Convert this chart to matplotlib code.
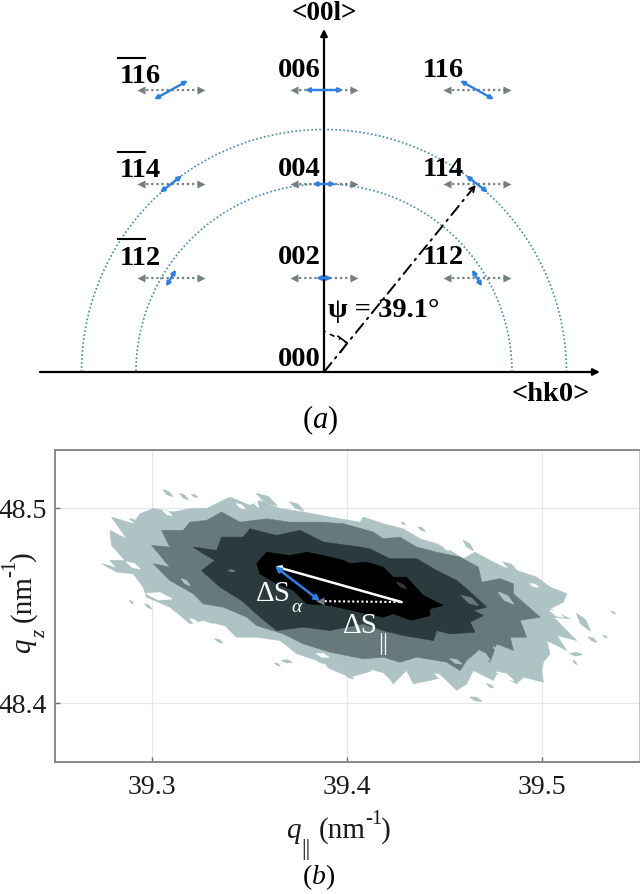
import matplotlib
matplotlib.use("Agg")
import matplotlib.pyplot as plt
from matplotlib.patches import Arc, Polygon
from matplotlib.transforms import Affine2D

plt.rcParams['font.family'] = ['Liberation Serif', 'DejaVu Serif']
plt.rcParams['mathtext.fontset'] = 'custom'
plt.rcParams['mathtext.rm'] = 'Liberation Serif'
plt.rcParams['mathtext.it'] = 'Liberation Serif:italic'
plt.rcParams['mathtext.bf'] = 'Liberation Serif:bold'
plt.rcParams['mathtext.fallback'] = 'stix'

# ---------- panel (a): reciprocal-space map ----------
H_COLUMNS = [-3.255, 0.0, 3.255]
L_ROWS = [2, 4, 6]
RING_RADII = [4.0, 5.16]
PSI_TIP = (3.23, 3.98)
GREY_HALF = 0.64
# half extents of the blue strain arrows: {(column, l): (dh, dl)}
BLUE_DH = {2: [0.106, 0.17, 0.106], 4: [0.234, 0.245, 0.234], 6: [0.36, 0.404, 0.36]}
BLUE_DL = {2: 0.18, 4: 0.18, 6: 0.20}
BLUE_SLOPE = [1, 0, -1]

# ---------- panel (b): contour regions (q_par, q_z, nm^-1) ----------
OUTER_Q = [39.2739, 39.2816, 39.2782, 39.2859, 39.2790, 39.2782, 39.2868, 39.2790, 39.2902, 39.2936,
           39.3005, 39.3107, 39.3193, 39.3279, 39.3399, 39.3502, 39.3553, 39.3656, 39.3776, 39.3913,
           39.4067, 39.4084, 39.4186, 39.4289, 39.4375, 39.4461, 39.4529, 39.4598, 39.4658, 39.4735,
           39.4803, 39.4872, 39.4975, 39.5043, 39.5129, 39.5112, 39.5043, 39.5146, 39.5061, 39.5180,
           39.5078, 39.5129, 39.5026, 39.5043, 39.5009, 39.5000, 39.5009, 39.4906, 39.4872, 39.4769,
           39.4752, 39.4649, 39.4615, 39.4564, 39.4495, 39.4426, 39.4341, 39.4306, 39.4238, 39.4135,
           39.4015, 39.3913, 39.3845, 39.3742, 39.3656, 39.3536, 39.3433, 39.3365, 39.3262, 39.3193,
           39.3133, 39.3090, 39.2970, 39.2953, 39.2902, 39.2816]
OUTER_Z = [48.4717, 48.4696, 48.4734, 48.4734, 48.4811, 48.4888, 48.4845, 48.4956, 48.4922, 48.4973,
           48.5000, 48.4982, 48.5000, 48.5000, 48.5059, 48.5016, 48.5041, 48.5000, 48.4982, 48.4956,
           48.4930, 48.4956, 48.4922, 48.4896, 48.4845, 48.4819, 48.4785, 48.4742, 48.4776, 48.4734,
           48.4700, 48.4682, 48.4648, 48.4597, 48.4563, 48.4520, 48.4486, 48.4434, 48.4443, 48.4323,
           48.4349, 48.4272, 48.4323, 48.4255, 48.4212, 48.4169, 48.4109, 48.4135, 48.4101, 48.4152,
           48.4118, 48.4169, 48.4101, 48.4067, 48.4135, 48.4118, 48.4101, 48.4169, 48.4101, 48.4169,
           48.4135, 48.4178, 48.4221, 48.4255, 48.4323, 48.4340, 48.4340, 48.4392, 48.4426, 48.4409,
           48.4460, 48.4494, 48.4545, 48.4597, 48.4665, 48.4674]

MID_Q = [39.3005, 39.3090, 39.2996, 39.3090, 39.3048, 39.3159, 39.3193, 39.3279, 39.3356, 39.3450,
         39.3587, 39.3707, 39.3862, 39.3982, 39.4135, 39.4186, 39.4272, 39.4358, 39.4461, 39.4581,
         39.4675, 39.4692, 39.4786, 39.4855, 39.4855, 39.4992, 39.4889, 39.4923, 39.4838, 39.4855,
         39.4769, 39.4735, 39.4675, 39.4615, 39.4581, 39.4512, 39.4358, 39.4272, 39.4186, 39.4084,
         39.3913, 39.3776, 39.3673, 39.3536, 39.3485, 39.3365, 39.3262, 39.3210, 39.3090]
MID_Z = [48.4717, 48.4699, 48.4811, 48.4802, 48.4888, 48.4888, 48.4930, 48.4939, 48.4982, 48.4930,
         48.4947, 48.4930, 48.4930, 48.4922, 48.4879, 48.4845, 48.4853, 48.4802, 48.4776, 48.4751,
         48.4699, 48.4622, 48.4640, 48.4614, 48.4563, 48.4443, 48.4426, 48.4340, 48.4340, 48.4272,
         48.4306, 48.4212, 48.4272, 48.4221, 48.4169, 48.4212, 48.4238, 48.4212, 48.4238, 48.4229,
         48.4263, 48.4306, 48.4357, 48.4400, 48.4443, 48.4494, 48.4511, 48.4563, 48.4631]

DARK_Q = [39.3210, 39.3330, 39.3356, 39.3467, 39.3502, 39.3639, 39.3759, 39.3879, 39.4067, 39.4118,
          39.4221, 39.4358, 39.4461, 39.4563, 39.4615, 39.4718, 39.4649, 39.4701, 39.4632, 39.4658,
          39.4529, 39.4461, 39.4444, 39.4289, 39.4186, 39.4084, 39.3913, 39.3776, 39.3639, 39.3553,
          39.3459, 39.3347, 39.3253, 39.3322, 39.3262]
DARK_Z = [48.4802, 48.4785, 48.4853, 48.4853, 48.4896, 48.4862, 48.4888, 48.4828, 48.4802, 48.4793,
          48.4742, 48.4742, 48.4682, 48.4631, 48.4588, 48.4494, 48.4477, 48.4451, 48.4417, 48.4366,
          48.4357, 48.4374, 48.4323, 48.4349, 48.4374, 48.4409, 48.4374, 48.4392, 48.4374, 48.4443,
          48.4528, 48.4597, 48.4682, 48.4734, 48.4768]

CORE_Q = [39.3536, 39.3587, 39.3707, 39.3793, 39.3879, 39.3982, 39.4015, 39.4101, 39.4186, 39.4238,
          39.4306, 39.4392, 39.4495, 39.4426, 39.4426, 39.4332, 39.4238, 39.4186, 39.4101, 39.3913,
          39.3793, 39.3725, 39.3639, 39.3553]
CORE_Z = [48.4717, 48.4776, 48.4759, 48.4776, 48.4759, 48.4734, 48.4717, 48.4725, 48.4699, 48.4648,
          48.4648, 48.4554, 48.4503, 48.4486, 48.4451, 48.4426, 48.4460, 48.4443, 48.4460, 48.4503,
          48.4511, 48.4580, 48.4614, 48.4665]

# small patches: (q_start, q_end, z_start, z_end)
LIGHT_ISLANDS = [(39.3056, 39.3104, 48.5096, 48.5062), (39.3142, 39.3185, 48.5076, 48.5045),
                 (39.3202, 39.3231, 48.5072, 48.5058), (39.2885, 39.2919, 48.4947, 48.4930),
                 (39.2885, 39.2902, 48.4528, 48.4511), (39.2962, 39.2996, 48.4511, 48.4486),
                 (39.3322, 39.3361, 48.4332, 48.4311), (39.3630, 39.3656, 48.4207, 48.4193),
                 (39.3665, 39.3716, 48.4221, 48.4212), (39.3990, 39.4033, 48.4152, 48.4127),
                 (39.4281, 39.4298, 48.4930, 48.4917), (39.4366, 39.4401, 48.4905, 48.4884),
                 (39.4632, 39.4692, 48.4033, 48.4012), (39.4718, 39.4752, 48.4101, 48.4080),
                 (39.5163, 39.5180, 48.4221, 48.4200), (39.5241, 39.5283, 48.4340, 48.4315),
                 (39.5318, 39.5335, 48.4349, 48.4337), (39.5360, 39.5378, 48.4472, 48.4460),
                 (39.5146, 39.5206, 48.4255, 48.4251), (39.3536, 39.3639, 48.5076, 48.5016),
                 (39.3707, 39.3776, 48.5033, 48.4990), (39.4598, 39.4649, 48.4836, 48.4785),
                 (39.4803, 39.4872, 48.4725, 48.4682), (39.5180, 39.5249, 48.4460, 48.4374)]
WHITE_FLECKS = [(39.3433, 39.3476, 48.5024, 48.4999), (39.3519, 39.3545, 48.5050, 48.5007),
                (39.3056, 39.3099, 48.4990, 48.4964), (39.2970, 39.3099, 48.4563, 48.4537),
                (39.2868, 39.2936, 48.4725, 48.4691), (39.3313, 39.3416, 48.4409, 48.4349),
                (39.3193, 39.3236, 48.4434, 48.4409), (39.3845, 39.3905, 48.4255, 48.4238),
                (39.3862, 39.3896, 48.4203, 48.4190), (39.4126, 39.4229, 48.4169, 48.4109),
                (39.4452, 39.4495, 48.4152, 48.4127), (39.4941, 39.4983, 48.4614, 48.4597),
                (39.4495, 39.4521, 48.4811, 48.4785), (39.5043, 39.5112, 48.4477, 48.4443),
                (39.4769, 39.4855, 48.4161, 48.4118)]
LIGHT_ON_MID = [(39.3150, 39.3193, 48.4640, 48.4605), (39.4529, 39.4589, 48.4229, 48.4203),
                (39.4752, 39.4795, 48.4289, 48.4255), (39.4675, 39.4735, 48.4272, 48.4221),
                (39.4778, 39.4855, 48.4571, 48.4511)]
MID_ON_DARK = [(39.4589, 39.4675, 48.4554, 48.4503), (39.3390, 39.3425, 48.4682, 48.4679)]
DARK_ON_CORE = [(39.4358, 39.4392, 48.4699, 48.4674), (39.4255, 39.4306, 48.4622, 48.4588)]

S_START = (39.3630, 48.4703)
S_END = (39.4281, 48.4520)
S_ALPHA_END = (39.3862, 48.4525)

X_TICKS = [39.3, 39.4, 39.5]
Y_TICKS = [48.4, 48.5]

LIGHT, MID, DARK, CORE = '#aec3c3', '#66797b', '#2b3a3c', '#000000'
BLUE, GREY, RING = '#2b7fe6', '#748080', '#3c8cb0'

W, H = 640, 894
fig = plt.figure(figsize=(W / 100, H / 100), dpi=100, facecolor='white')
PX = Affine2D().scale(1 / W, -1 / H).translate(0, 1) + fig.transFigure


def note(x, y, s, **kw):
    kw.setdefault('ha', 'left')
    kw.setdefault('va', 'baseline')
    kw.setdefault('color', 'black')
    return fig.text(x, y, s, transform=PX, **kw)


# ---------- panel (a) ----------
ax = fig.add_axes([0, 0, 1, 1])
ax.set_xlim(-324 / 47, 316 / 47)
ax.set_ylim((372 - H) / 47, 372 / 47)
ax.axis('off')

for r in RING_RADII:
    ax.add_patch(Arc((0, 0), 2 * r, 2 * r, theta1=0, theta2=180, color=RING, lw=1.2, ls=(0, (1, 1.4))))

ax.annotate('', xy=(276 / 47, 0), xytext=(-284 / 47, 0),
            arrowprops=dict(arrowstyle='-|>', color='black', lw=1.6, mutation_scale=10, shrinkA=0, shrinkB=0))
ax.annotate('', xy=(0, 343 / 47), xytext=(0, 0),
            arrowprops=dict(arrowstyle='-|>', color='black', lw=1.6, mutation_scale=10, shrinkA=0, shrinkB=0))
ax.annotate('', xy=PSI_TIP, xytext=(0, 0),
            arrowprops=dict(arrowstyle='->', color='black', lw=1.4, ls=(0, (6, 3, 1, 3)), shrinkA=0, shrinkB=0,
                            mutation_scale=9))
ax.plot([0, 0.49], [0.87, 0.62], color='black', lw=1.2, ls=(0, (1, 3, 3, 3)))
ax.plot([0.30, 0.49, 0.36], [0.76, 0.62, 0.43], color='black', lw=1.2)

for col, h in enumerate(H_COLUMNS):
    for l in L_ROWS:
        ax.plot([h - GREY_HALF, h + GREY_HALF], [l, l], color=GREY, lw=1.6, ls=(0, (1, 1.3)), zorder=3)
        ax.plot([h - GREY_HALF], [l], marker='<', color=GREY, ms=6, mec='none', zorder=3)
        ax.plot([h + GREY_HALF], [l], marker='>', color=GREY, ms=6, mec='none', zorder=3)
        dh = BLUE_DH[l][col]
        dl = BLUE_DL[l] * BLUE_SLOPE[col]
        ax.annotate('', xy=(h + dh, l + dl), xytext=(h - dh, l - dl), zorder=4,
                    arrowprops=dict(arrowstyle='<|-|>', color=BLUE, lw=1.7, mutation_scale=6,
                                    shrinkA=0, shrinkB=0))

bold = dict(fontweight='bold', fontsize=20.5)
note(324, 20, '<00l>', ha='center', fontweight='bold', fontsize=19.5)
note(551, 401, '<hk0>', ha='center', **bold)
for x, y, s in [(278, 77, '006'), (278, 176, '004'), (278, 264, '002'), (278, 366, '000'),
                (423, 77, '116'), (423, 176, '114'), (423, 264, '112'),
                (120, 83, '116'), (120, 177, '114'), (120, 265, '112')]:
    note(x, y, s, **bold)
for y in (58, 152, 239):
    for x0, x1 in ((118, 131), (133, 145)):
        fig.add_artist(plt.Line2D([x0, x1], [y, y], transform=PX, color='black', lw=1.5))
note(328, 317, 'ψ = 39.1°', **bold)
note(320, 428, r'($\mathit{a}$)', ha='center', fontsize=22)

# ---------- panel (b) ----------
axb = fig.add_axes([55 / W, 1 - 762 / H, (639 - 55) / W, (762 - 450) / H], facecolor='white')
axb.set_xlim(39.25, 39.55)
axb.set_ylim(48.37, 48.53)
axb.set_xticks(X_TICKS)
axb.set_yticks(Y_TICKS)
axb.set_xticklabels([f'{v:.1f}' for v in X_TICKS], fontsize=20)
axb.set_yticklabels([f'{v:.1f}' for v in Y_TICKS], fontsize=20)
axb.grid(True, color='#e4e8e8', lw=0.9)
axb.set_axisbelow(True)
axb.tick_params(axis='both', direction='in', length=3.5, width=1, color='#707070', labelcolor='#1a1a1a')
axb.tick_params(axis='x', pad=9)
axb.tick_params(axis='y', pad=6)
for side, spine in axb.spines.items():
    spine.set_color('#808080')
    spine.set_linewidth(1.3)
axb.spines['right'].set_linewidth(0.7)
axb.spines['right'].set_color('#c8c8c8')


def fill(q, z, color, zo):
    axb.add_patch(Polygon(list(zip(q, z)), closed=True, fc=color, ec=color, lw=0.4, zorder=zo))


def streaks(items, color, zo):
    """Pointed lens-shaped flecks between two read end points."""
    for q0, q1, z0, z1 in items:
        mq, mz = (q0 + q1) / 2, (z0 + z1) / 2
        nq, nz = -(z1 - z0) * 0.14, (q1 - q0) * 0.14
        axb.add_patch(Polygon([(q0, z0), (mq + nq, mz + nz), (q1, z1), (mq - nq, mz - nz)], closed=True,
                              fc=color, ec=color, lw=0.8, joinstyle='round', zorder=zo))


fill(OUTER_Q, OUTER_Z, LIGHT, 2)
streaks(LIGHT_ISLANDS, LIGHT, 2)
streaks(WHITE_FLECKS, 'white', 2.5)
fill(MID_Q, MID_Z, MID, 3)
streaks(LIGHT_ON_MID, LIGHT, 3.5)
fill(DARK_Q, DARK_Z, DARK, 4)
streaks(MID_ON_DARK, MID, 4.5)
fill(CORE_Q, CORE_Z, CORE, 5)
streaks(DARK_ON_CORE, DARK, 5.5)

axb.plot([S_ALPHA_END[0], S_END[0]], [S_ALPHA_END[1], S_END[1]], color='white', lw=1.5, ls=(0, (1, 1.2)), zorder=6)
axb.plot([S_ALPHA_END[0]], [S_ALPHA_END[1]], marker='<', color=GREY, ms=6, mec='none', zorder=6)
axb.annotate('', xy=S_START, xytext=S_END, zorder=7,
             arrowprops=dict(arrowstyle='-|>', color='white', lw=1.8, mutation_scale=7, shrinkA=0, shrinkB=0))
axb.annotate('', xy=S_START, xytext=S_ALPHA_END, zorder=8,
             arrowprops=dict(arrowstyle='<|-|>', color=BLUE, lw=1.8, mutation_scale=8, shrinkA=0, shrinkB=0))

note(256, 601, 'ΔS', color='white', fontsize=21, zorder=10)
note(291, 612, r'$\alpha$', color='white', fontsize=14, zorder=10)
note(343, 633, 'ΔS', color='white', fontsize=21, zorder=10)
note(378, 650, '||', color='white', fontsize=18, zorder=10)

ink = '#1a1a1a'
note(286, 838, 'q', fontstyle='italic', fontsize=21, color=ink)
note(301, 855, '||', fontsize=17, color=ink)
note(319, 838, '(nm', fontsize=21, color=ink)
note(365, 824, '-1', fontsize=15, color=ink)
note(381, 838, ')', fontsize=21, color=ink)
note(319, 884, r'($\mathit{b}$)', ha='center', fontsize=20)

vert = dict(rotation=90, rotation_mode='anchor', color=ink)
note(30, 653, 'q', fontstyle='italic', fontsize=21, **vert)
note(45, 638, 'z', fontstyle='italic', fontsize=15, **vert)
note(30, 622, '(nm', fontsize=21, **vert)
note(15, 577, '-1', fontsize=15, **vert)
note(30, 561, ')', fontsize=21, **vert)

fig.savefig('out.png', dpi=100)
